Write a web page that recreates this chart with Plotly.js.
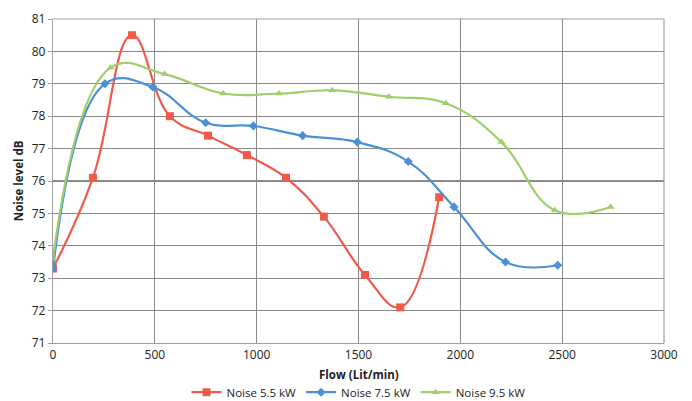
<!DOCTYPE html>
<html><head><meta charset="utf-8">
<script src="https://cdn.plot.ly/plotly-3.0.1.min.js"></script>
<style>body{margin:0;background:#fff}#chart{width:692px;height:401px}</style>
</head><body><div id="chart"></div>
<script>
const flow55 = [0, 196, 388, 574, 761, 952, 1144, 1330, 1532, 1705, 1896];
const noise55 = [73.3, 76.1, 80.5, 78.0, 77.4, 76.8, 76.1, 74.9, 73.1, 72.1, 75.5];
const flow75 = [0, 255, 490, 750, 984, 1226, 1494, 1744, 1969, 2222, 2478];
const noise75 = [73.3, 79.0, 78.9, 77.8, 77.7, 77.4, 77.2, 76.6, 75.2, 73.5, 73.4];
const flow95 = [0, 283, 548, 836, 1110, 1371, 1650, 1929, 2202, 2464, 2738];
const noise95 = [73.6, 79.5, 79.3, 78.7, 78.7, 78.8, 78.6, 78.4, 77.2, 75.1, 75.2];
const xTicks = [0, 500, 1000, 1500, 2000, 2500, 3000];
const yTicks = [71, 72, 73, 74, 75, 76, 77, 78, 79, 80, 81];
const xTitle = 'Flow (Lit/min)';
const yTitle = 'Noise level dB';

const font = "'Open Sans', sans-serif";
const traces = [
  {x: flow55, y: noise55, name: 'Noise 5.5 kW', mode: 'lines+markers',
   line: {color: '#EF5A4A', width: 2.2, shape: 'spline', smoothing: 1.2},
   marker: {symbol: 'square', size: 8, color: '#EF5A4A'}},
  {x: flow75, y: noise75, name: 'Noise 7.5 kW', mode: 'lines+markers',
   line: {color: '#4A90D6', width: 2.2, shape: 'spline', smoothing: 1.2},
   marker: {symbol: 'diamond', size: 7, color: '#4A90D6'}},
  {x: flow95, y: noise95, name: 'Noise 9.5 kW', mode: 'lines+markers',
   line: {color: '#9DCF6A', width: 2.2, shape: 'spline', smoothing: 1.2},
   marker: {symbol: 'triangle-up', size: 7, color: '#9DCF6A'}}
];
const layout = {
  width: 692, height: 401,
  margin: {l: 53, r: 28, t: 19, b: 58},
  paper_bgcolor: '#fff', plot_bgcolor: '#fff',
  font: {family: font, size: 12, color: '#222'},
  showlegend: true,
  legend: {orientation: 'h', x: 0.5, xanchor: 'center', yref: 'container', y: 0.022, yanchor: 'middle',
           font: {size: 11.5, color: '#222'}, itemwidth: 30, tracegroupgap: 0},
  xaxis: {range: [0, 3000], tickvals: xTicks, ticktext: xTicks.map(String), automargin: false,
          showgrid: true, gridcolor: '#8a8a8a', gridwidth: 1.2,
          showline: true, linecolor: '#a0a0a0', linewidth: 1.2, mirror: false,
          zeroline: false, ticks: '', tickfont: {size: 12}},
  yaxis: {range: [71, 81], tickvals: yTicks, ticktext: yTicks.map(String), automargin: false,
          showgrid: true, gridcolor: '#8a8a8a', gridwidth: 1.2,
          showline: true, linecolor: '#a0a0a0', linewidth: 1.2,
          zeroline: false, ticks: 'outside', ticklen: 4, tickcolor: '#a0a0a0', tickfont: {size: 12}},
  annotations: [
    {text: '<b>' + xTitle + '</b>', xref: 'paper', yref: 'paper', x: 0.5, y: -0.098, xanchor: 'center', yanchor: 'middle',
     showarrow: false, font: {size: 11.5, color: '#222'}},
    {text: '<b>' + yTitle + '</b>', xref: 'paper', yref: 'paper', x: -0.057, y: 0.5, xanchor: 'center', yanchor: 'middle',
     textangle: -90, showarrow: false, font: {size: 11.5, color: '#222'}}
  ],
  shapes: [
    {type: 'line', xref: 'paper', yref: 'paper', x0: 1, x1: 1, y0: 0, y1: 1, line: {color: '#a0a0a0', width: 1.2}},
    {type: 'line', xref: 'paper', yref: 'paper', x0: 0, x1: 1, y0: 1, y1: 1, line: {color: '#a0a0a0', width: 1.2}}
  ]
};
Plotly.newPlot('chart', traces, layout, {displayModeBar: false, staticPlot: true});
</script></body></html>
